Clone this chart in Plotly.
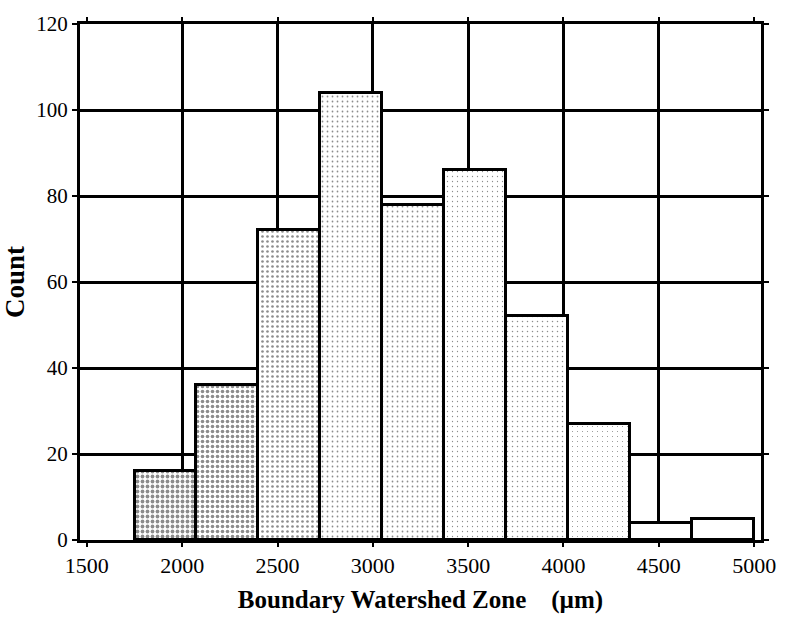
import plotly.graph_objects as go

# Histogram bins (µm): left edge of first bin and common bin width
bin_start = 1750
bin_width = 325
counts = [16, 36, 72, 104, 78, 86, 52, 27, 4, 5]

# Stipple density per bin (darker toward the short end)
stipple = [0.45, 0.42, 0.22, 0.10, 0.10, 0.05, 0.07, 0.04, 0.0, 0.0]

x_ticks = [1500, 2000, 2500, 3000, 3500, 4000, 4500, 5000]
x_grid = [2000, 2500, 3000, 3500, 4000, 4500]
y_ticks = [0, 20, 40, 60, 80, 100, 120]

centers = [bin_start + bin_width * (i + 0.5) for i in range(len(counts))]
shapes = ["." if s > 0 else "" for s in stipple]
solid = [s if s > 0 else 0.1 for s in stipple]

fig = go.Figure(
    go.Bar(
        x=centers,
        y=counts,
        width=bin_width,
        marker=dict(
            color="white",
            line=dict(color="black", width=3),
            pattern=dict(shape=shapes, fgcolor="#1a1a1a", bgcolor="white",
                         size=5, solidity=solid, fillmode="overlay"),
        ),
        showlegend=False,
    )
)

font_family = "Liberation Serif"
fig.update_layout(
    width=788,
    height=625,
    paper_bgcolor="white",
    plot_bgcolor="white",
    margin=dict(l=78, r=20, t=22, b=85),
    font=dict(family=font_family, color="black", size=21),
    bargap=0,
)
fig.update_xaxes(
    range=[1464, 5036],
    tickvals=x_ticks,
    ticktext=[str(v) for v in x_ticks],
    showgrid=False,
    minor=dict(tickvals=x_grid, showgrid=True, gridcolor="black",
               gridwidth=3, ticks=""),
    showline=True, linecolor="black", linewidth=3, mirror="ticks",
    ticks="outside", ticklen=4, tickwidth=2, tickcolor="black",
    zeroline=False,
    tickfont=dict(family=font_family, size=22),
    title=dict(text="<b>Boundary Watershed Zone&nbsp;&nbsp;&nbsp;&nbsp;(µm)</b>",
               font=dict(family=font_family, size=25), standoff=14),
)
fig.update_yaxes(
    range=[0, 120],
    tickvals=y_ticks,
    showgrid=True, gridcolor="black", gridwidth=3,
    showline=True, linecolor="black", linewidth=3, mirror="ticks",
    ticks="outside", ticklen=5, tickwidth=2, tickcolor="black",
    zeroline=False,
    tickfont=dict(family=font_family, size=21),
    title=dict(text="<b>Count</b>",
               font=dict(family=font_family, size=27), standoff=5),
)

fig.write_html("out.html")
